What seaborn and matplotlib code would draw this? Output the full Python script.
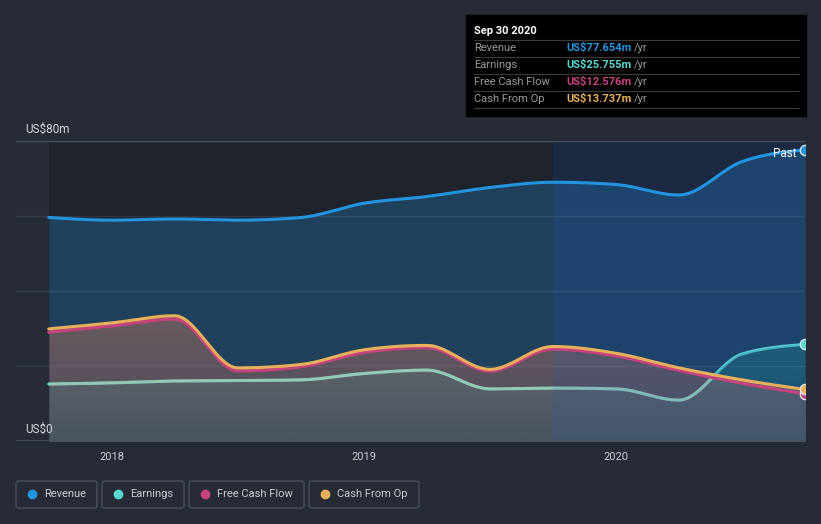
import numpy as np
import pandas as pd
import matplotlib
matplotlib.use("Agg")
import matplotlib.pyplot as plt
import seaborn as sns
from matplotlib.patches import FancyBboxPatch, Rectangle, PathPatch
from matplotlib.path import Path
from matplotlib.lines import Line2D
from matplotlib.colors import LinearSegmentedColormap

# ---------------- data ----------------
quarters = [2017.75, 2018.0, 2018.25, 2018.5, 2018.75, 2019.0, 2019.25,
            2019.5, 2019.75, 2020.0, 2020.25, 2020.5, 2020.75]
revenue = [59.6, 58.9, 59.2, 58.9, 59.6, 63.4, 65.2, 67.6, 69.0, 68.4, 65.6, 74.5, 77.654]
earnings = [15.2, 15.5, 16.0, 16.1, 16.3, 18.0, 18.9, 13.9, 14.1, 13.9, 10.9, 23.2, 25.755]
free_cash_flow = [29.0, 30.7, 32.5, 18.7, 19.8, 23.6, 24.9, 18.6, 24.5, 22.7, 18.8, 15.4, 12.576]
cash_from_op = [29.9, 31.5, 33.4, 19.5, 20.4, 24.3, 25.5, 19.1, 25.2, 23.4, 19.5, 16.3, 13.737]
series_names = ["Revenue", "Earnings", "Free Cash Flow", "Cash From Op"]
tooltip_values = ["US$77.654m", "US$25.755m", "US$12.576m", "US$13.737m"]
year_ticks = [2018, 2019, 2020]
y_labels = ["US$0", "US$80m"]

colors = {"Revenue": "#2394df", "Earnings": "#58d8d0",
          "Free Cash Flow": "#c8437e", "Cash From Op": "#e8b05c"}

W, H = 821, 524
BG = "#262b36"


def monotone(xs, ys, n=40):
    """d3 curveMonotoneX style rendering of the polyline."""
    x = np.asarray(xs, float); y = np.asarray(ys, float)
    h = np.diff(x); s = np.diff(y) / h
    t = np.zeros_like(y)
    for i in range(1, len(x) - 1):
        h0, h1, s0, s1 = h[i - 1], h[i], s[i - 1], s[i]
        p = (s0 * h1 + s1 * h0) / (h0 + h1)
        t[i] = (np.sign(s0) + np.sign(s1)) * min(abs(s0), abs(s1), 0.5 * abs(p))
    t[0] = (3 * s[0] - t[1]) / 2
    t[-1] = (3 * s[-1] - t[-2]) / 2
    X, Y = [], []
    for i in range(len(x) - 1):
        u = np.linspace(0, 1, n, endpoint=(i == len(x) - 2))
        h00 = 2 * u**3 - 3 * u**2 + 1; h10 = u**3 - 2 * u**2 + u
        h01 = -2 * u**3 + 3 * u**2; h11 = u**3 - u**2
        X.append(x[i] + u * h[i])
        Y.append(h00 * y[i] + h10 * h[i] * t[i] + h01 * y[i + 1] + h11 * h[i] * t[i + 1])
    return np.concatenate(X), np.concatenate(Y)


data = {"Revenue": revenue, "Earnings": earnings,
        "Free Cash Flow": free_cash_flow, "Cash From Op": cash_from_op}
frames = []
smooth = {}
for name in series_names:
    sx, sy = monotone(quarters, data[name])
    smooth[name] = (sx, sy)
    frames.append(pd.DataFrame({"date": sx, "value": sy, "series": name}))
df = pd.concat(frames, ignore_index=True)

sns.set_style("dark")
plt.rcParams["font.family"] = ["Roboto", "DejaVu Sans"]

fig = plt.figure(figsize=(W / 100, H / 100), dpi=100, facecolor=BG)
ax = fig.add_axes([16 / W, 1 - 441 / H, 789 / W, 300 / H])
ax.set_facecolor(BG)
x0, x1 = 2017.62, 2020.75
ax.set_xlim(x0, x1)
ax.set_ylim(0, 80)
for sp in ax.spines.values():
    sp.set_visible(False)

# background regions
ax.axvspan(quarters[0], 2019.75, color="#1f232b", zorder=0, lw=0)
ax.axvspan(2019.75, quarters[-1], color="#1b2131", zorder=0, lw=0)

rx, ry = smooth["Revenue"]
ex, ey = smooth["Earnings"]
cx, cy = smooth["Cash From Op"]

ax.fill_between(rx, 0, ry, color="#2394df", alpha=0.27, lw=0, zorder=1)
ax.fill_between(ex, 0, ey, color="#1e828c", alpha=0.5, lw=0, zorder=2)

df_e = df[df.series == "Earnings"]
sns.lineplot(data=df_e, x="date", y="value", color=colors["Earnings"], lw=2.2,
             ax=ax, zorder=3, sort=False, estimator=None)

ax.fill_between(cx, 0, cy, color="#c67b67", alpha=0.45, lw=0, zorder=4)

# vertical darkening gradient inside the lower filled areas
top = np.maximum(cy, ey)
verts = np.vstack([np.column_stack([cx, top]), [[cx[-1], 0], [cx[0], 0], [cx[0], top[0]]]])
clip = PathPatch(Path(verts), transform=ax.transData, facecolor="none", edgecolor="none")
ax.add_patch(clip)
grad = np.linspace(0, 1, 256).reshape(-1, 1)
cmap = LinearSegmentedColormap.from_list("g", [(0.12, 0.2, 0.32, 0.0), (0.12, 0.2, 0.32, 0.42)])
im = ax.imshow(grad, extent=[quarters[0], quarters[-1], 0, 34], origin="upper",
               cmap=cmap, aspect="auto", zorder=4.2, interpolation="bilinear")
im.set_clip_path(clip)

# pale tint of the earnings line where it runs beneath the cash-flow band
ey_under = np.where(ey < cy + 0.6, ey, np.nan)
ax.plot(ex, ey_under, color="#98d4bd", alpha=0.85, lw=2.2, zorder=4.3,
        solid_capstyle="butt")

# highlight overlay on the last year
ax.axvspan(2019.75, quarters[-1], color="#2060c0", alpha=0.13, zorder=4.5, lw=0)

# grid (drawn over fills, faint)
for gy in [20, 40, 60]:
    ax.axhline(gy, color="#8a96aa", alpha=0.18, lw=0.9, zorder=4.6)
ax.axhline(80, color="#4a505c", lw=1.0, zorder=4.6)
ax.axhline(0, color="#4a505c", lw=1.2, zorder=6)

for name in ["Free Cash Flow", "Cash From Op", "Revenue"]:
    d = df[df.series == name]
    sns.lineplot(data=d, x="date", y="value", color=colors[name], lw=2.2,
                 ax=ax, zorder=5, sort=False, estimator=None)

for name in series_names:
    ax.scatter([quarters[-1]], [data[name][-1]], s=55, color=colors[name],
               edgecolor="#dfe8f0", linewidth=1.0, zorder=7, clip_on=True)

ax.text(x1 - 8 / 252, 76.6, "Past", color="white", fontsize=8.5,
        ha="right", va="center", zorder=8)

ax.set_xlabel(""); ax.set_ylabel("")
ax.set_yticks([])
ax.set_xticks(year_ticks)
ax.set_xticklabels([str(y) for y in year_ticks])
ax.tick_params(axis="x", colors="#555c68", length=4, width=1, labelcolor="#c9ccd2",
               labelsize=8, pad=4)
ax.grid(False)
ax.set_xlim(x0, x1)
ax.set_ylim(0, 80)


def P(x, y):
    return (x / W, 1 - y / H)


fig.text(*P(25, 129), y_labels[1], color="#d4d6da", fontsize=8.5, va="center", ha="left")
fig.text(*P(25, 429), y_labels[0], color="#d4d6da", fontsize=8.5, va="center", ha="left",
         zorder=10)

# tooltip
fig.add_artist(Rectangle(P(466, 116), 340 / W, 101 / H, transform=fig.transFigure,
                         color="#000000", zorder=10))
fig.text(*P(474, 31), "Sep 30 2020", color="white", fontsize=8, fontweight="bold",
         va="center", ha="left", zorder=11)
row_y = [48, 65, 82, 99]
for yy in [40, 57, 74, 91, 108]:
    fig.add_artist(Line2D([474 / W, 799 / W], [1 - yy / H] * 2, transform=fig.transFigure,
                          color="#3c3c3c", lw=0.8, zorder=11))
for name, val, yy in zip(series_names, tooltip_values, row_y):
    fig.text(*P(474, yy), name, color="#9a9a9a", fontsize=8, va="center", ha="left", zorder=12)
    t = fig.text(*P(566, yy), val, color=colors[name], fontsize=8, fontweight="bold",
                 va="center", ha="left", zorder=12)
    fig.canvas.draw()
    bb = t.get_window_extent()
    fig.text(bb.x1 / W + 3 / W, 1 - yy / H, "/yr", color="#9a9a9a", fontsize=8,
             va="center", ha="left", zorder=12)

# legend
boxes = [(16, 97), (102, 184), (189, 304), (309, 419)]
for name, (bx0, bx1) in zip(series_names, boxes):
    fig.add_artist(FancyBboxPatch(P(bx0, 508), (bx1 - bx0) / W, 27 / H,
                                  boxstyle="round,pad=0,rounding_size=0.004",
                                  transform=fig.transFigure, facecolor="none",
                                  edgecolor="#4a505c", lw=1.0, zorder=10))
    fig.add_artist(Line2D([(bx0 + 16) / W], [1 - 494 / H], marker="o", ms=6,
                          color=colors[name], transform=fig.transFigure, zorder=11))
    fig.text(*P(bx0 + 28, 494), name, color="#c8cbd0", fontsize=8, va="center",
             ha="left", zorder=11)

fig.savefig("out.png", dpi=100, facecolor=BG)
